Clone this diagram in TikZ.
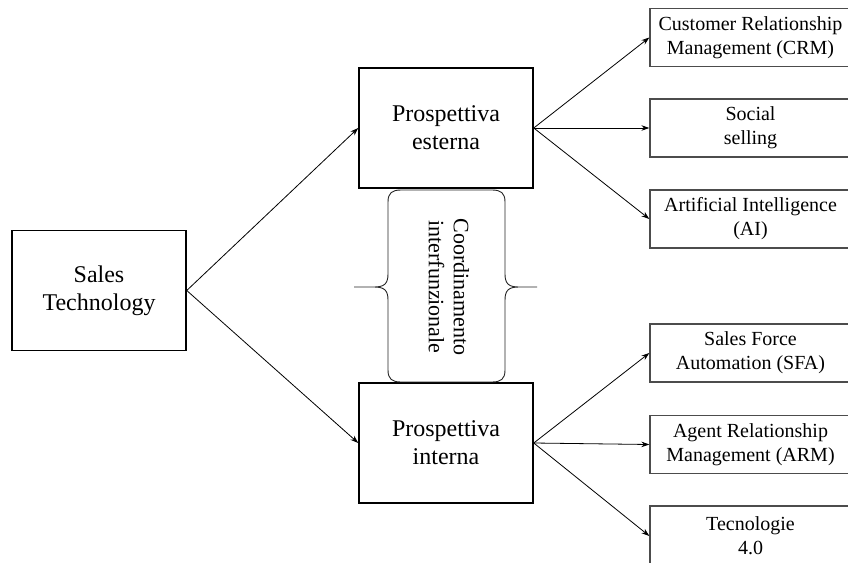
\documentclass[tikz,border=0pt]{standalone}
\usepackage{fontspec}
\setmainfont{Liberation Serif}
\usetikzlibrary{arrows.meta}
\tikzset{
  bigbox/.style={draw=black, line width=1.5pt, minimum width=174pt, minimum height=120pt, inner sep=0pt, align=center, font=\fontsize{24}{28}\selectfont},
  smallbox/.style={draw=black!70, line width=1.3pt, minimum width=201pt, minimum height=58pt, inner sep=0pt, align=center, font=\fontsize{20}{24}\selectfont},
  conn/.style={line width=0.8pt, -{Stealth[length=8pt,width=5.5pt]}},
  bracetext/.style={rotate=-90, align=center, inner sep=0pt, font=\fontsize{22}{25}\selectfont}
}
\begin{document}
\begin{tikzpicture}[x=1pt,y=-1pt]
\useasboundingbox (0,0) rectangle (848,562);
\fill[white] (0,0) rectangle (848,562);

\node[bigbox] (st) at (99,290.5) {Sales\\Technology};
\node[bigbox] (pe) at (446,128) {Prospettiva\\esterna};
\node[bigbox] (pi) at (446,443) {Prospettiva\\interna};

\node[smallbox] (crm) at (750.5,37.5) {Customer Relationship\\Management (CRM)};
\node[smallbox] (soc) at (750.5,128) {Social\\selling};
\node[smallbox] (ai) at (750.5,219) {Artificial Intelligence\\(AI)};
\node[smallbox] (sfa) at (750.5,353) {Sales Force\\Automation (SFA)};
\node[smallbox] (arm) at (750.5,444.5) {Agent Relationship\\Management (ARM)};
\node[smallbox, minimum height=60pt] (t40) at (750.5,536) {Tecnologie\\4.0};

% double brace
\draw[line width=0.9pt, black!85]
  (354,287) -- (374,287) .. controls (384,287) and (388,284) .. (388,274)
  -- (388,202) .. controls (388,193) and (392,190) .. (401,190)
  -- (492,190) .. controls (501,190) and (505,193) .. (505,202)
  -- (505,274) .. controls (505,284) and (509,287) .. (519,287)
  -- (537,287) -- (519,287) .. controls (509,287) and (505,290) .. (505,300)
  -- (505,370) .. controls (505,379) and (501,382) .. (492,382)
  -- (401,382) .. controls (392,382) and (388,379) .. (388,370)
  -- (388,300) .. controls (388,290) and (384,287) .. (374,287) -- cycle;
\node[bracetext] (coord) at (449,287) {Coordinamento\\interfunzionale};

\draw[conn] (st.east) -- (pe.west);
\draw[conn] (st.east) -- (pi.west);
\draw[conn] (pe.east) -- (crm.west);
\draw[conn] (pe.east) -- (soc.west);
\draw[conn] (pe.east) -- (ai.west);
\draw[conn] (pi.east) -- (sfa.west);
\draw[conn] (pi.east) -- (arm.west);
\draw[conn] (pi.east) -- (t40.west);
\end{tikzpicture}
\end{document}
